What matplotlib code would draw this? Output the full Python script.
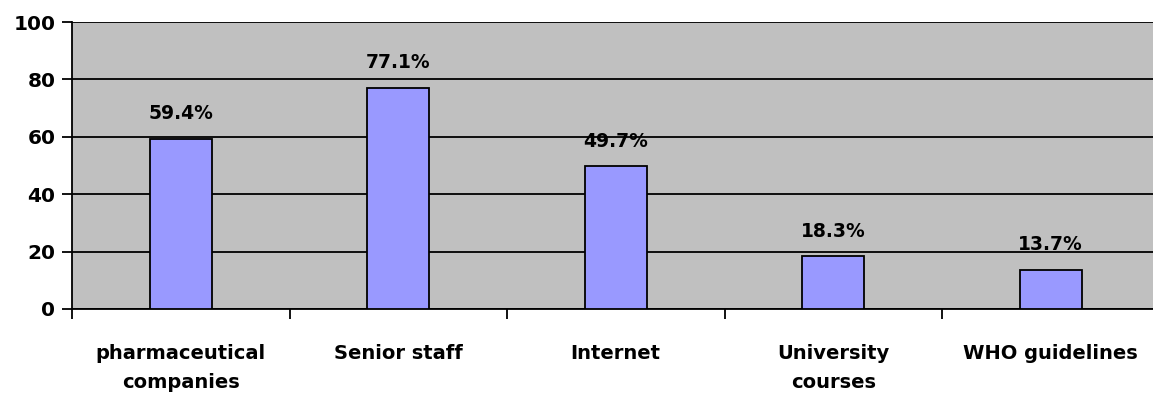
import numpy as np
import matplotlib
matplotlib.use("Agg")
import matplotlib.pyplot as plt

categories = ["pharmaceutical\ncompanies", "Senior staff", "Internet",
              "University\ncourses", "WHO guidelines"]
values = [59.4, 77.1, 49.7, 18.3, 13.7]
yticks = [0, 20, 40, 60, 80, 100]

plt.rcParams['font.family'] = ['DejaVu Sans']
plt.rcParams['font.weight'] = 'bold'

fig = plt.figure(figsize=(11.53, 3.94), dpi=100)
ax = fig.add_axes([72 / 1153, 85 / 394, 1087.5 / 1153, 287 / 394])
ax.set_facecolor('#C0C0C0')

x = np.arange(len(values))
bars = ax.bar(x, values, width=0.285, color='#9999FF', edgecolor='black',
              linewidth=1.3, zorder=3)

for b, v in zip(bars, values):
    ax.annotate(f"{v}%", (b.get_x() + b.get_width() / 2, v),
                xytext=(0, 11), textcoords='offset points',
                ha='center', va='bottom', fontsize=13.5, fontweight='bold')

ax.set_xlim(-0.5, len(values) - 0.5)
ax.set_ylim(0, 100)
ax.set_yticks(yticks)
ax.yaxis.grid(True, color='black', linewidth=1.3, zorder=1)
ax.set_axisbelow(True)

# category labels between boundary ticks
ax.set_xticks(np.arange(len(values) + 1) - 0.5)
ax.set_xticklabels([])
ax.set_xticks(x, minor=True)
ax.set_xticklabels(categories, minor=True, fontsize=14, fontweight='bold',
                   linespacing=1.7)
ax.tick_params(axis='x', which='minor', length=0, pad=25)
ax.tick_params(axis='x', which='major', length=7, width=1.3, direction='out')
ax.tick_params(axis='y', length=7, width=1.3, labelsize=14.5, pad=5)
for lbl in ax.get_yticklabels():
    lbl.set_fontweight('bold')

for s in ['top', 'right']:
    ax.spines[s].set_visible(False)
ax.spines['left'].set_linewidth(1.3)
ax.spines['bottom'].set_linewidth(1.3)

fig.savefig("out.png", dpi=100)
